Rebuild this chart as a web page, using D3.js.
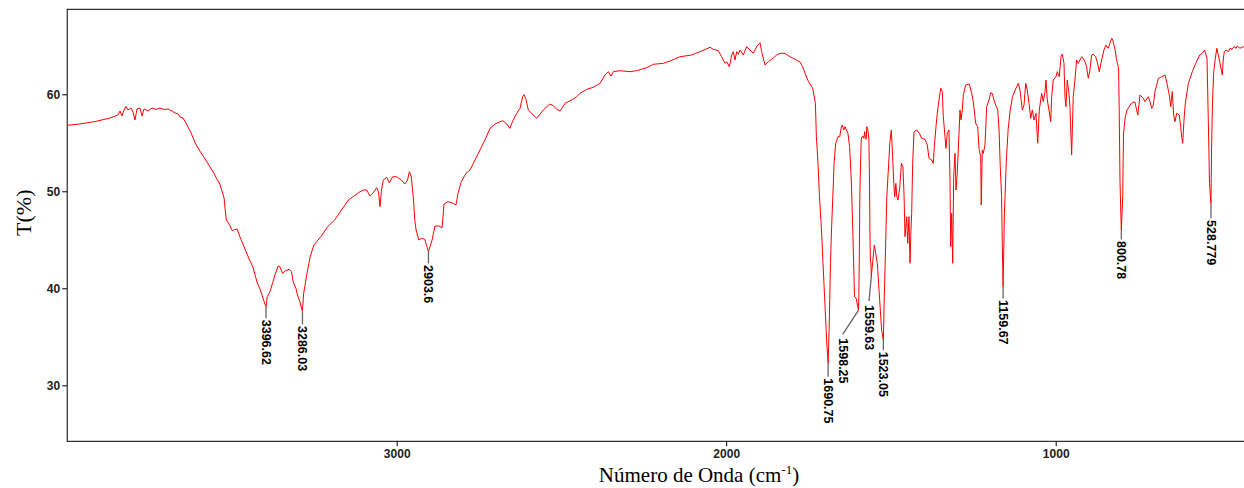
<!DOCTYPE html>
<html>
<head>
<meta charset="utf-8">
<script src="https://cdn.jsdelivr.net/npm/d3@7"></script>
<style>
  body { margin: 0; background: #fff; }
  svg { display: block; }
</style>
</head>
<body>
<svg id="chart" width="1244" height="488"></svg>
<script>
// FTIR spectrum: wavenumber (cm-1) and transmittance (%)
const waveNumber = [
  4000, 3961.2, 3915.8, 3870.1, 3845.8, 3839.8, 3833.7, 3827.6, 3821.5, 3815.5,
  3806.4, 3800.3, 3794.2, 3788.2, 3779.1, 3773.0, 3766.9, 3754.8, 3742.6, 3730.5,
  3718.4, 3706.2, 3694.1, 3681.9, 3672.8, 3663.7, 3657.6, 3648.6, 3639.5, 3631.8,
  3624.0, 3611.5, 3599.4, 3589.4, 3577.5, 3564.5, 3554.8, 3547.5, 3536.9, 3529.3,
  3523.8, 3521.1, 3516.9, 3506.8, 3499.2, 3491.7, 3484.4, 3474.4, 3461.6, 3449.2,
  3436.4, 3424.0, 3411.5, 3404.0, 3396.62, 3393.0, 3384.8, 3376.9, 3369.6, 3359.7,
  3354.5, 3346.6, 3338.4, 3326.3, 3319.3, 3314.1, 3305.9, 3301.1, 3293.8, 3286.03,
  3282.3, 3272.2, 3262.5, 3251.3, 3230.3, 3209.4, 3188.4, 3167.5, 3146.6, 3111.4,
  3100.7, 3091.0, 3081.0, 3071.9, 3060.7, 3055.2, 3050.7, 3046.1, 3040.7, 3030.3,
  3022.5, 3012.1, 3000.1, 2985.8, 2975.4, 2967.2, 2961.4, 2955.7, 2949.0, 2945.1,
  2941.1, 2932.9, 2924.4, 2914.7, 2908.3, 2903.6, 2892.6, 2883.9, 2871.9, 2862.2,
  2856.4, 2844.0, 2828.5, 2820.0, 2814.0, 2804.2, 2789.6, 2777.5, 2767.5, 2747.2,
  2732.1, 2716.8, 2701.7, 2678.3, 2666.2, 2656.2, 2651.0, 2635.9, 2625.8, 2617.7,
  2613.7, 2608.5, 2600.6, 2575.1, 2555.1, 2536.9, 2526.6, 2514.5, 2504.4, 2489.2,
  2468.9, 2453.7, 2443.7, 2423.4, 2403.4, 2383.0, 2367.8, 2357.8, 2349.7, 2342.6,
  2322.3, 2292.0, 2271.6, 2241.3, 2221.3, 2190.9, 2170.6, 2140.3, 2104.8, 2079.6,
  2049.2, 2039.2, 2024.1, 2013.8, 2003.6, 1998.5, 1990.6, 1983.3, 1978.4, 1973.4,
  1968.2, 1963.3, 1958.1, 1948.1, 1937.9, 1927.8, 1917.9, 1907.5, 1897.5, 1892.4,
  1882.2, 1872.3, 1861.9, 1846.8, 1836.8, 1821.6, 1806.4, 1786.1, 1776.0, 1768.1,
  1752.7, 1737.5, 1729.3, 1726.3, 1721.4, 1716.9, 1710.8, 1706.2, 1701.4, 1695.3,
  1690.75, 1687.7, 1683.5, 1680.4, 1675.6, 1672.6, 1667.6, 1660.7, 1655.5, 1650.4,
  1647.3, 1643.4, 1639.4, 1635.2, 1630.6, 1625.5, 1620.3, 1615.8, 1610.6, 1605.5,
  1600.9, 1598.25, 1597.2, 1595.7, 1594.5, 1592.7, 1590.3, 1587.9, 1584.8, 1582.1,
  1579.7, 1577.6, 1575.1, 1573.3, 1571.2, 1568.7, 1566.9, 1565.1, 1563.9, 1562.4,
  1560.6, 1559.63, 1550.5, 1541.3, 1528.4, 1523.05, 1520.2, 1516.3, 1512.6, 1508.0,
  1503.5, 1498.9, 1496.2, 1491.4, 1488.6, 1485.0, 1482.3, 1478.6, 1473.1, 1468.3,
  1463.7, 1460.1, 1457.4, 1452.2, 1449.2, 1445.3, 1442.2, 1439.2, 1437.1, 1434.1,
  1430.0, 1421.8, 1414.0, 1406.7, 1396.7, 1389.7, 1384.5, 1376.3, 1371.4, 1368.4,
  1363.3, 1359.3, 1354.2, 1349.0, 1344.2, 1341.1, 1336.0, 1333.0, 1329.0, 1323.9,
  1320.8, 1318.7, 1315.7, 1312.6, 1309.6, 1305.6, 1302.6, 1298.7, 1293.5, 1290.5,
  1287.4, 1283.5, 1280.4, 1273.2, 1262.3, 1255.0, 1250.1, 1242.9, 1236.8, 1232.8,
  1227.7, 1225.9, 1222.8, 1219.8, 1214.6, 1209.5, 1202.5, 1197.3, 1192.6, 1187.3,
  1182.1, 1175.8, 1171.9, 1168.2, 1164.3, 1162.1, 1159.67, 1155.6, 1150.2, 1144.5,
  1138.0, 1131.1, 1123.0, 1113.4, 1108.3, 1101.3, 1096.2, 1091.0, 1086.2, 1081.0,
  1075.9, 1071.0, 1065.9, 1059.8, 1054.6, 1049.8, 1042.5, 1037.6, 1032.5, 1029.5,
  1025.5, 1020.4, 1015.2, 1012.2, 1007.4, 999.2, 995.2, 989.2, 984.0, 980.1,
  974.9, 971.9, 968.9, 964.9, 959.8, 956.8, 951.6, 946.8, 941.6, 936.5,
  931.6, 926.5, 921.3, 916.5, 911.3, 906.2, 901.2, 896.1, 890.9, 886.1,
  878.8, 872.7, 867.8, 860.6, 853.6, 847.5, 840.5, 835.4, 830.2, 826.7,
  823.1, 819.5, 816.1, 812.5, 809.1, 807.0, 804.9, 802.7, 800.78, 796.6,
  794.2, 788.7, 783.6, 770.5, 759.9, 750.8, 744.1, 734.1, 729.0, 718.9,
  713.8, 708.6, 703.8, 698.6, 693.5, 688.6, 678.3, 668.3, 661.3, 655.3,
  651.0, 646.2, 641.9, 638.0, 632.8, 624.9, 620.7, 617.6, 614.6, 610.6,
  606.7, 597.3, 585.4, 575.1, 563.0, 555.4, 548.3, 540.8, 536.3, 533.2,
  528.779, 526.8, 524.2, 520.8, 516.3, 511.0, 506.5, 501.4, 496.2, 494.3,
  491.6, 488.3, 483.1, 476.1, 471.0, 464.9, 458.8, 452.8, 448.8, 440.6,
  430.6, 420.3, 400
];
const transmittance = [
  56.80, 56.94, 57.19, 57.55, 57.86, 58.28, 57.76, 58.38, 58.74, 58.38,
  58.59, 58.17, 57.35, 58.48, 58.59, 57.76, 58.48, 58.28, 58.59, 58.43,
  58.59, 58.43, 58.48, 58.28, 58.07, 57.97, 57.66, 57.55, 57.04, 56.52,
  56.01, 54.98, 54.26, 53.74, 53.12, 52.40, 51.88, 51.37, 50.75, 49.93,
  49.31, 48.28, 47.04, 46.52, 45.94, 46.06, 46.11, 45.19, 44.15, 43.12,
  42.19, 40.65, 39.62, 38.79, 38.10, 39.13, 39.65, 40.51, 41.37, 42.31,
  42.23, 41.54, 41.78, 41.96, 41.71, 40.68, 40.00, 39.31, 38.62, 37.61,
  39.48, 41.54, 43.26, 44.46, 45.32, 46.35, 47.04, 48.07, 49.10, 49.96,
  50.13, 50.13, 49.51, 49.82, 50.37, 49.93, 48.41, 50.13, 51.16, 51.44,
  50.88, 51.50, 51.50, 51.16, 50.75, 51.16, 52.02, 51.50, 49.10, 47.04,
  46.01, 44.98, 45.15, 45.05, 44.29, 43.77, 44.98, 46.42, 46.42, 46.25,
  48.69, 48.93, 48.76, 48.59, 49.79, 50.99, 51.85, 52.19, 52.88, 54.26,
  55.29, 56.49, 56.94, 57.28, 56.94, 56.49, 57.01, 58.04, 58.55, 59.75,
  59.96, 59.59, 58.38, 57.52, 58.38, 58.97, 58.89, 58.45, 58.28, 59.07,
  59.41, 59.75, 60.10, 60.51, 60.72, 61.13, 61.99, 62.33, 61.88, 62.33,
  62.43, 62.33, 62.43, 62.74, 63.09, 63.19, 63.43, 63.87, 64.05, 64.39,
  64.84, 64.64, 64.49, 63.87, 63.19, 63.36, 62.84, 64.05, 64.39, 63.53,
  64.39, 64.12, 64.56, 64.05, 64.91, 64.56, 64.22, 64.91, 65.32, 64.39,
  63.02, 63.36, 63.61, 64.05, 64.22, 64.22, 63.87, 63.53, 63.33, 62.84,
  61.47, 60.62, 59.07, 55.63, 52.88, 49.44, 46.01, 42.58, 39.13, 34.67,
  32.27, 35.70, 42.58, 46.01, 50.13, 52.88, 54.95, 55.63, 55.63, 56.66,
  56.83, 56.32, 56.66, 56.32, 55.98, 54.60, 51.16, 46.01, 39.13, 38.97,
  38.10, 37.76, 39.82, 44.29, 49.44, 52.19, 55.29, 55.63, 55.70, 55.46,
  56.14, 55.63, 55.36, 56.66, 56.49, 55.98, 55.29, 51.16, 46.01, 42.92,
  42.58, 41.19, 44.46, 42.58, 35.70, 34.67, 39.13, 44.29, 49.44, 52.19,
  54.95, 56.32, 54.60, 50.82, 49.44, 50.82, 49.44, 49.10, 50.47, 52.88,
  52.53, 49.44, 45.32, 47.38, 44.64, 47.38, 42.58, 46.01, 47.73, 52.88,
  56.14, 56.32, 55.98, 55.46, 55.36, 54.77, 53.40, 53.23, 52.88, 54.60,
  56.66, 58.04, 59.41, 60.62, 60.27, 57.69, 55.63, 54.43, 55.98, 56.32,
  51.16, 44.29, 47.73, 42.58, 51.50, 53.91, 50.13, 51.85, 55.98, 58.38,
  57.35, 58.38, 59.93, 60.96, 61.06, 60.10, 59.24, 57.01, 56.66, 54.43,
  53.56, 48.59, 54.26, 53.91, 54.77, 58.72, 59.41, 60.16, 60.10, 59.41,
  58.89, 58.38, 56.32, 52.53, 49.44, 44.64, 40.16, 47.73, 52.88, 56.32,
  58.38, 59.75, 60.44, 61.13, 60.44, 58.38, 58.89, 61.13, 60.44, 59.07,
  57.52, 58.38, 57.35, 58.04, 54.95, 58.38, 60.10, 59.24, 60.27, 61.47,
  59.41, 58.38, 57.17, 59.75, 61.47, 61.81, 62.33, 61.81, 63.87, 64.15,
  63.19, 59.75, 58.72, 61.47, 60.10, 58.72, 53.74, 59.75, 61.47, 63.53,
  63.19, 63.53, 63.87, 63.71, 63.36, 62.84, 61.65, 62.50, 64.05, 64.15,
  63.87, 63.19, 62.33, 63.53, 64.57, 65.08, 64.74, 65.26, 65.77, 65.60,
  65.08, 64.57, 63.71, 63.19, 62.68, 57.69, 51.16, 48.07, 46.01, 49.44,
  55.98, 57.69, 58.38, 59.07, 59.23, 57.86, 59.93, 59.59, 59.23, 59.75,
  59.23, 58.55, 58.89, 60.27, 60.96, 61.65, 61.81, 61.99, 60.96, 59.93,
  58.72, 60.27, 57.86, 57.17, 58.04, 57.86, 56.66, 55.63, 54.95, 57.35,
  59.07, 61.13, 62.33, 63.19, 64.05, 64.22, 64.56, 63.71, 56.32, 50.82,
  48.76, 54.60, 59.07, 62.16, 63.53, 64.74, 64.05, 63.19, 62.33, 61.99,
  63.53, 64.39, 64.56, 64.39, 64.74, 64.64, 64.91, 64.74, 64.98, 64.74,
  64.91, 64.74, 64.85
];

// Labelled absorption bands
const peakWaveNumber = [3396.62, 3286.03, 2903.6, 1690.75, 1598.25, 1559.63, 1523.05, 1159.67, 800.78, 528.779];
const peakTransmittance = [38.10, 37.61, 43.77, 32.27, 37.76, 41.19, 34.67, 40.16, 46.01, 48.76];

const xTicks = [3000, 2000, 1000];
const yTicks = [30, 40, 50, 60];

// Where each peak label sits relative to its peak: [dx, dy] in px to the label's top
const peakLabelOffset = [[0, 13], [0, 14.5], [0, 13.3], [0, 15], [-15.9, 28.3], [-2.3, 28.3], [0, 11.7], [0, 13.3], [0, 11], [0, 16.7]];

const spectrum = waveNumber.map((w, i) => ({ w, t: transmittance[i] }));
const peaks = peakWaveNumber.map((w, i) => ({ w, t: peakTransmittance[i], off: peakLabelOffset[i] }));

const svg = d3.select("#chart");
const plot = { left: 67.2, top: 9.3, bottom: 441.3, right: 1253.4 };

const x = d3.scaleLinear().domain([4000, 400]).range([plot.left, plot.right]);
const y = d3.scaleLinear().domain([24.23, 68.76]).range([plot.bottom, plot.top]);

const tickFont = "'Liberation Sans', Arial, sans-serif";

// x axis
const gx = svg.append("g")
  .attr("transform", `translate(0,${plot.bottom})`)
  .call(d3.axisBottom(x).tickValues(xTicks).tickFormat(d3.format("d")).tickSize(5).tickSizeOuter(0).tickPadding(3.5));
gx.select(".domain").remove();

// y axis
const gy = svg.append("g")
  .attr("transform", `translate(${plot.left},0)`)
  .call(d3.axisLeft(y).tickValues(yTicks).tickFormat(d3.format("d")).tickSize(5).tickSizeOuter(0).tickPadding(2));
gy.select(".domain").remove();

[gx, gy].forEach(g => {
  g.selectAll(".tick line").attr("stroke", "#000").attr("stroke-width", 1);
  g.selectAll(".tick text")
    .attr("fill", "#222")
    .style("font-family", tickFont)
    .style("font-weight", "bold")
    .style("font-size", "12px");
});

// plot frame (left, top, bottom edges)
svg.append("rect")
  .attr("x", plot.left).attr("y", plot.top)
  .attr("width", plot.right - plot.left).attr("height", plot.bottom - plot.top)
  .attr("fill", "none").attr("stroke", "#000").attr("stroke-width", 1);

// spectrum trace
const clipId = "plot-clip";
svg.append("clipPath").attr("id", clipId)
  .append("rect")
  .attr("x", plot.left).attr("y", plot.top)
  .attr("width", plot.right - plot.left).attr("height", plot.bottom - plot.top);

svg.append("path")
  .datum(spectrum)
  .attr("clip-path", `url(#${clipId})`)
  .attr("fill", "none")
  .attr("stroke", "#ff0000")
  .attr("stroke-width", 1)
  .attr("stroke-linejoin", "round")
  .attr("d", d3.line().x(d => x(d.w)).y(d => y(d.t)));

// peak leaders and labels
const pk = svg.append("g");
pk.selectAll("line")
  .data(peaks)
  .join("line")
  .attr("x1", d => x(d.w))
  .attr("y1", d => y(d.t))
  .attr("x2", d => x(d.w) + d.off[0])
  .attr("y2", d => y(d.t) + d.off[1] - (d.off[0] !== 0 ? 4 : 1.5))
  .attr("stroke", "#666")
  .attr("stroke-width", 1.3);

pk.selectAll("text")
  .data(peaks)
  .join("text")
  .attr("transform", d => `translate(${x(d.w) + d.off[0]},${y(d.t) + d.off[1]}) rotate(90)`)
  .attr("text-anchor", "start")
  .attr("dominant-baseline", "central")
  .attr("fill", "#000")
  .style("font-family", tickFont)
  .style("font-weight", "bold")
  .style("font-size", "12.5px")
  .text(d => String(d.w));

// axis titles
const titleFont = "'Liberation Serif', 'Times New Roman', serif";
svg.append("text")
  .attr("transform", "translate(31,212.7) rotate(-90)")
  .attr("text-anchor", "middle")
  .style("font-family", titleFont)
  .style("font-size", "22px")
  .attr("fill", "#000")
  .text("T(%)");

const xt = svg.append("text")
  .attr("x", 699).attr("y", 482)
  .attr("text-anchor", "middle")
  .style("font-family", titleFont)
  .style("font-size", "21px")
  .attr("fill", "#000");
xt.append("tspan").text("Número de Onda (cm");
xt.append("tspan").attr("dy", -8).style("font-size", "13px").text("-1");
xt.append("tspan").attr("dy", 8).text(")");
</script>
</body>
</html>
